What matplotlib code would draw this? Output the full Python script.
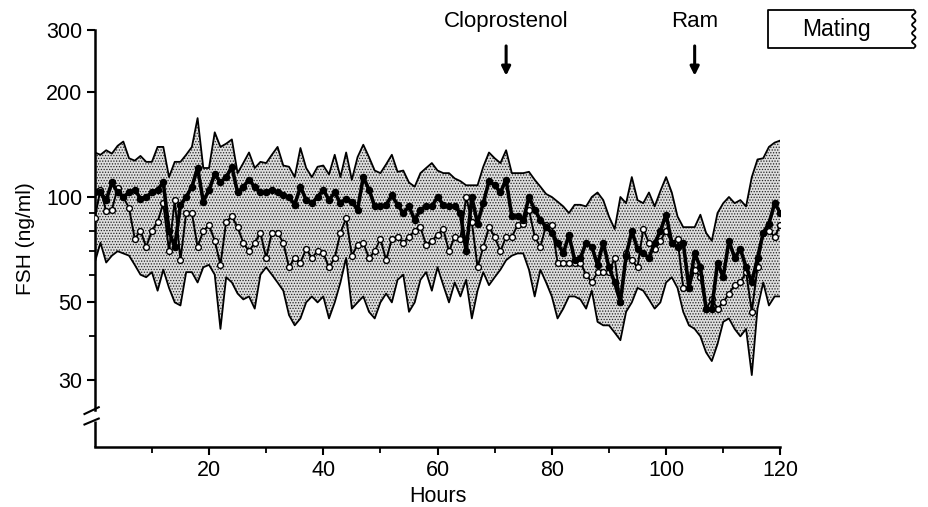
import matplotlib
matplotlib.use("Agg")
import matplotlib.pyplot as plt
from matplotlib.ticker import FixedLocator, NullFormatter
import numpy as np

plt.rcParams['font.family'] = ['Liberation Sans', 'DejaVu Sans']
plt.rcParams['hatch.linewidth'] = 0.6

hours = list(range(0, 121))

# upper / lower limits of the shaded range (ng/ml)
upper = [134, 132, 136, 133, 140, 144, 129, 127, 131, 126, 126, 139, 139, 114, 126, 126, 132, 139, 168, 121,
         121, 153, 139, 142, 146, 117, 125, 134, 121, 126, 125, 132, 139, 123, 122, 114, 138, 121, 114, 122,
         123, 116, 132, 114, 134, 112, 130, 141, 130, 119, 117, 124, 132, 118, 119, 110, 107, 117, 121, 125,
         119, 117, 117, 113, 111, 108, 108, 108, 122, 134, 129, 125, 136, 117, 117, 117, 118, 112, 107, 102,
         100, 97, 94, 90, 95, 95, 94, 100, 103, 98, 88, 81, 100, 96, 114, 98, 96, 103, 94, 104,
         114, 103, 88, 82, 82, 82, 89, 79, 75, 90, 96, 100, 96, 98, 94, 114, 128, 129, 139, 143, 145]
lower = [65, 74, 65, 68, 70, 69, 68, 64, 60, 59, 61, 54, 62, 55, 50, 49, 61, 61, 57, 63,
         64, 60, 42, 59, 57, 53, 51, 52, 48, 60, 63, 60, 57, 54, 46, 43, 45, 50, 52, 50,
         52, 45, 50, 57, 67, 48, 50, 52, 47, 45, 50, 53, 50, 58, 60, 47, 50, 58, 61, 54,
         63, 56, 50, 57, 52, 58, 45, 54, 61, 56, 59, 62, 66, 68, 69, 69, 62, 52, 62, 57,
         52, 45, 48, 52, 52, 51, 48, 54, 44, 43, 43, 41, 39, 47, 50, 55, 54, 51, 48, 50,
         57, 59, 55, 47, 43, 42, 40, 36, 34, 38, 44, 45, 42, 40, 42, 31, 48, 57, 49, 52, 52]

# filled-circle series
closed = [103, 103, 98, 110, 103, 100, 103, 105, 99, 100, 103, 105, 110, 80, 72, 95, 100, 107, 121, 97,
          105, 116, 110, 114, 122, 103, 107, 112, 107, 103, 103, 105, 103, 101, 100, 95, 107, 98, 96, 100,
          105, 98, 103, 96, 99, 97, 92, 114, 105, 94, 94, 95, 101, 95, 90, 94, 86, 92, 94, 94,
          100, 95, 94, 94, 90, 70, 100, 84, 96, 111, 108, 103, 112, 88, 88, 86, 100, 92, 86, 82,
          79, 74, 69, 78, 66, 67, 74, 72, 64, 74, 63, 57, 50, 68, 80, 71, 69, 67, 74, 80,
          89, 74, 72, 74, 55, 69, 63, 48, 48, 65, 59, 75, 67, 71, 63, 57, 67, 79, 84, 96, 90]

# open-circle series
opened = [87, 105, 91, 92, 106, 100, 93, 76, 80, 72, 80, 85, 96, 70, 98, 66, 90, 90, 72, 80,
          83, 75, 64, 85, 88, 82, 74, 70, 74, 79, 67, 79, 79, 74, 63, 67, 65, 71, 67, 70,
          69, 63, 67, 79, 87, 68, 73, 74, 67, 70, 76, 66, 76, 77, 74, 77, 80, 82, 73, 75,
          78, 81, 70, 77, 76, 100, 85, 63, 72, 82, 77, 70, 77, 77, 83, 84, 92, 77, 72, 83,
          83, 65, 65, 65, 65, 65, 60, 57, 61, 61, 61, 67, 50, 69, 66, 63, 81, 74, 71, 75,
          80, 74, 76, 55, 55, 62, 59, 48, 51, 48, 50, 53, 56, 57, 61, 47, 63, 79, 80, 77, 83]

event_labels = ['Cloprostenol', 'Ram']
event_hours = [72, 105]

x_major = [20, 40, 60, 80, 100, 120]
x_minor = [10, 30, 50, 70, 90, 110]
y_major = [30, 50, 100, 200, 300]
y_minor = [40, 60, 70, 80, 90]

fig = plt.figure(figsize=(9.29, 5.07), dpi=100)
ax = fig.add_axes([0.102, 0.118, 0.738, 0.823])

ax.fill_between(hours, lower, upper, facecolor='#dedede', edgecolor='#222222',
                hatch='......', linewidth=0, zorder=1)
ax.plot(hours, upper, color='black', lw=1.3, zorder=2)
ax.plot(hours, lower, color='black', lw=1.3, zorder=2)

ax.plot(hours, opened, color='black', lw=1.4, marker='o', ms=4.2,
        markerfacecolor='white', markeredgecolor='black', markeredgewidth=1.0, zorder=3)
ax.plot(hours, closed, color='black', lw=2.6, marker='o', ms=4.4,
        markerfacecolor='black', markeredgecolor='black', zorder=4)

ax.set_yscale('log')
ax.set_xlim(0, 120)
ax.set_ylim(19.3, 300)

ax.xaxis.set_major_locator(FixedLocator(x_major))
ax.xaxis.set_minor_locator(FixedLocator(x_minor))
ax.yaxis.set_major_locator(FixedLocator(y_major))
ax.yaxis.set_minor_locator(FixedLocator(y_minor))
ax.set_yticklabels([str(v) for v in y_major])
ax.yaxis.set_minor_formatter(NullFormatter())
ax.set_xticklabels([str(v) for v in x_major])

ax.tick_params(axis='both', which='major', direction='out', length=6, width=1.5,
               labelsize=15.5, pad=3)
ax.tick_params(axis='both', which='minor', direction='out', length=4, width=1.3)

for s in ['top', 'right']:
    ax.spines[s].set_visible(False)
ax.spines['left'].set_linewidth(1.8)
ax.spines['bottom'].set_linewidth(1.8)
ax.spines['left'].set_bounds(24.7, 300)

# axis break on the y axis
ax.plot([0, 0], [19.3, 22.9], color='black', lw=1.8, clip_on=False, solid_capstyle='butt')
ax.plot([-1.8, 0.7], [24.0, 25.1], color='black', lw=1.5, clip_on=False)
ax.plot([-1.8, 0.7], [22.4, 23.3], color='black', lw=1.5, clip_on=False)

ax.set_xlabel('Hours', fontsize=15.5, labelpad=4)
ax.set_ylabel('FSH (ng/ml)', fontsize=15, labelpad=8)

# treatment arrows
for lab, h in zip(event_labels, event_hours):
    ax.annotate('', xy=(h, 218), xytext=(h, 275),
                arrowprops=dict(arrowstyle='-|>', color='black', lw=2.2, mutation_scale=13),
                annotation_clip=False)
    ax.text(h, 318, lab, ha='center', va='center', fontsize=16)

# "Mating" box with wavy right side (figure pixel coords -> fractions)
W, H = 929.0, 507.0
bx0, bx1, by0, by1 = 768 / W, 912 / W, 1 - 48 / H, 1 - 10 / H
fig.add_artist(plt.Line2D([bx1, bx0, bx0, bx1], [by1, by1, by0, by0],
                          transform=fig.transFigure, color='black', lw=1.3))
wy = np.linspace(by0, by1, 60)
wx = bx1 + (3.5 / W) * (1 + np.sin((wy - by0) / (by1 - by0) * 2 * np.pi * 4.5)) / 2
fig.add_artist(plt.Line2D(wx, wy, transform=fig.transFigure, color='black', lw=1.3))
fig.text((bx0 + bx1) / 2 - 4 / W, (by0 + by1) / 2, 'Mating', ha='center', va='center', fontsize=16.5)

fig.savefig('out.png', dpi=100)
